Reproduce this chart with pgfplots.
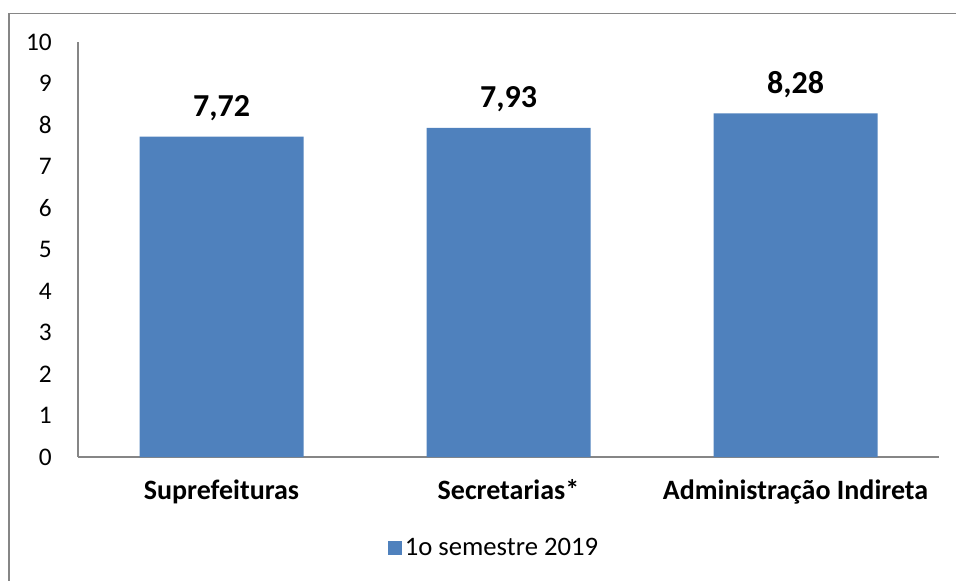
\documentclass[border=0pt]{standalone}
\usepackage{pgfplots}
\pgfplotsset{compat=1.18}
\usepackage{fontspec}
\setmainfont{Carlito}
\definecolor{barblue}{HTML}{4F81BD}
\definecolor{axgray}{HTML}{868686}
\begin{document}
\begin{tikzpicture}
\useasboundingbox (0,0) rectangle (717pt,-435.75pt);
\draw[axgray, line width=0.9pt] (6.75pt,-450pt) -- (6.75pt,-10.125pt) -- (730pt,-10.125pt);
\begin{axis}[
  at={(58.5pt,-342.75pt)}, anchor=south west,
  scale only axis, width=645.75pt, height=311.25pt,
  xmin=-0.5, xmax=2.5, ymin=0, ymax=10,
  xtick={0,1,2},
  xticklabels={Suprefeituras, Secretarias*, Administração Indireta},
  ytick={0,1,...,10},
  axis x line=bottom, axis y line=left,
  axis line style={draw=axgray, line width=0.9pt, -},
  major tick length=0pt,
  /pgf/number format/assume math mode=true,
  yticklabel style={font=\fontsize{19}{22}\selectfont, anchor=east, inner sep=0pt, xshift=-19.5pt},
  xticklabel style={font=\fontsize{21}{25}\bfseries\selectfont, anchor=base, inner sep=0pt, yshift=-31.5pt},
  ybar, bar width=123pt,
  nodes near coords,
  nodes near coords style={font=\fontsize{24}{28}\bfseries\selectfont, anchor=base, inner sep=0pt, yshift=15pt,
    /pgf/number format/.cd, fixed, fixed zerofill, precision=2, use comma, assume math mode=true},
  legend style={draw=none, fill=none, at={(axis description cs:0.4837,-0.219)}, anchor=center,
    font=\fontsize{20}{24}\selectfont},
  legend image code/.code={\fill[#1] (0pt,-5.25pt) rectangle (10.5pt,5.25pt);},
]
\addplot[fill=barblue, draw=none] coordinates {(0,7.72) (1,7.93) (2,8.28)};
\addlegendentry{1o semestre 2019}
\end{axis}
\end{tikzpicture}
\end{document}
